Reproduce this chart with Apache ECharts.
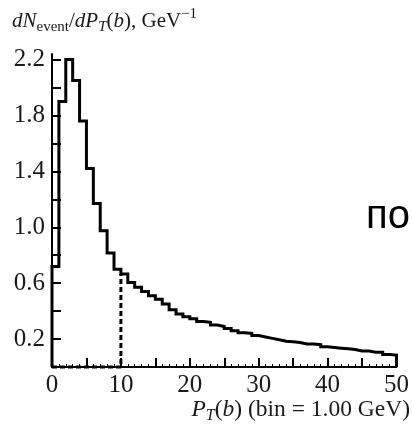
<!DOCTYPE html>
<html>
<head>
<meta charset="utf-8">
<script src="https://cdn.jsdelivr.net/npm/echarts@6/dist/echarts.min.js"></script>
<style>
  html, body { margin: 0; padding: 0; background: #fff; overflow: hidden; }
  #chart { width: 412px; height: 427px; }
</style>
</head>
<body>
<div id="chart"></div>
<script>
// b-jet transverse momentum spectrum, 1 GeV bins (lower bin edges, GeV)
const binWidth = 1.0;
const binLowEdges = [
  0, 1, 2, 3, 4, 5, 6, 7, 8, 9,
  10, 11, 12, 13, 14, 15, 16, 17, 18, 19,
  20, 21, 22, 23, 24, 25, 26, 27, 28, 29,
  30, 31, 32, 33, 34, 35, 36, 37, 38, 39,
  40, 41, 42, 43, 44, 45, 46, 47, 48, 49
];
// dN_event / dP_T(b), GeV^-1
const eventsPerGeV = [
  0.72, 1.90, 2.20, 2.05, 1.76, 1.42, 1.17, 0.975, 0.815, 0.70,
  0.665, 0.605, 0.57, 0.54, 0.51, 0.485, 0.45, 0.41, 0.38, 0.36,
  0.345, 0.325, 0.32, 0.30, 0.29, 0.275, 0.26, 0.245, 0.24, 0.225,
  0.215, 0.205, 0.195, 0.185, 0.18, 0.175, 0.165, 0.165, 0.16, 0.145,
  0.14, 0.135, 0.13, 0.125, 0.115, 0.115, 0.105, 0.105, 0.09, 0.085
];
// P_T cut (GeV)
const ptCut = 10;

// axis ticks and labels
const yTickValues = [0.2, 0.4, 0.6, 0.8, 1.0, 1.2, 1.4, 1.6, 1.8, 2.0, 2.2];
const yLabelValues = [0.2, 0.6, 1.0, 1.4, 1.8, 2.2];
const xMajorTickValues = [0, 5, 10, 15, 20, 25, 30, 35, 40, 45, 50];
const xLabelValues = [0, 10, 20, 30, 40, 50];

// step outline of the histogram, closed down to zero at both ends
const lastIdx = binLowEdges.length - 1;
const upperEdge = binLowEdges[lastIdx] + binWidth;
const histOutline = [[binLowEdges[0], 0]];
binLowEdges.forEach((x, i) => histOutline.push([x, eventsPerGeV[i]]));
histOutline.push([upperEdge, eventsPerGeV[lastIdx]]);
histOutline.push([upperEdge, 0]);

// dashed cut marker: along zero up to the cut, then up to the spectrum
const cutIdx = binLowEdges.indexOf(ptCut);
const cutOutline = [[binLowEdges[0], 0], [ptCut, 0], [ptCut, eventsPerGeV[cutIdx]]];

const serif = '"Liberation Serif", "DejaVu Serif", serif';
const ink = '#000';
const textInk = '#1a1a1a';

const chart = echarts.init(document.getElementById('chart'), null, { renderer: 'canvas' });

chart.setOption({
  animation: false,
  backgroundColor: '#fff',
  grid: { left: 52, right: 15, top: 54, bottom: 60, containLabel: false },
  xAxis: [{
    type: 'value',
    min: 0, max: upperEdge,
    axisLine: { show: true, onZero: false, lineStyle: { color: ink, width: 2 } },
    axisTick: { show: true, inside: true, length: 9, customValues: xMajorTickValues,
                lineStyle: { color: ink, width: 2 } },
    axisLabel: { show: true, customValues: xLabelValues, margin: 6,
                 fontFamily: serif, fontSize: 25, color: textInk },
    splitLine: { show: false }
  }, {
    // 1 GeV bin ticks
    type: 'value',
    position: 'bottom',
    min: 0, max: upperEdge, interval: binWidth,
    axisLine: { show: false },
    axisTick: { show: true, inside: true, length: 3, lineStyle: { color: ink, width: 1 } },
    axisLabel: { show: false },
    splitLine: { show: false }
  }],
  yAxis: {
    type: 'value',
    min: 0, max: 2.24,
    axisLine: { show: true, onZero: false, lineStyle: { color: ink, width: 2 } },
    axisTick: { show: true, inside: true, length: 9, customValues: yTickValues,
                lineStyle: { color: ink, width: 2 } },
    axisLabel: { show: true, customValues: yLabelValues, margin: 7,
                 formatter: v => v.toFixed(1),
                 fontFamily: serif, fontSize: 25, color: textInk },
    splitLine: { show: false }
  },
  series: [{
    type: 'line',
    xAxisIndex: 0,
    data: cutOutline,
    symbol: 'none',
    clip: false,
    lineStyle: { color: ink, width: 3, type: [5, 3] },
    z: 3
  }, {
    type: 'line',
    xAxisIndex: 0,
    data: histOutline,
    step: 'end',
    symbol: 'none',
    clip: false,
    lineStyle: { color: ink, width: 3, join: 'miter' },
    z: 4
  }],
  graphic: [{
    type: 'text',
    left: 12, top: 7,
    style: {
      text: '{i|dN}{sub|event}{r|/}{i|dP}{subi|T}{r|(}{i|b}{r|), GeV}{sup|−1}',
      fill: textInk,
      rich: {
        i: { fontFamily: serif, fontStyle: 'italic', fontSize: 21, lineHeight: 28, color: textInk },
        r: { fontFamily: serif, fontSize: 21, lineHeight: 28, color: textInk },
        sub: { fontFamily: serif, fontSize: 15, lineHeight: 12, verticalAlign: 'bottom', color: textInk },
        subi: { fontFamily: serif, fontStyle: 'italic', fontSize: 15, lineHeight: 12, verticalAlign: 'bottom', color: textInk },
        sup: { fontFamily: serif, fontSize: 15, lineHeight: 12, verticalAlign: 'top', color: textInk }
      }
    }
  }, {
    type: 'text',
    right: 2, top: 398,
    style: {
      text: '{i|P}{subi|T}{r|(}{i|b}{r|) (bin = 1.00 GeV)}',
      fill: textInk,
      rich: {
        i: { fontFamily: serif, fontStyle: 'italic', fontSize: 23.5, lineHeight: 28, color: textInk },
        r: { fontFamily: serif, fontSize: 23.5, lineHeight: 28, color: textInk },
        subi: { fontFamily: serif, fontStyle: 'italic', fontSize: 16, lineHeight: 12, verticalAlign: 'bottom', color: textInk }
      }
    }
  }, {
    type: 'text',
    left: 366, top: 197,
    style: {
      text: 'по',
      fill: '#000',
      font: '40px "Liberation Sans", "DejaVu Sans", sans-serif'
    }
  }]
});
</script>
</body>
</html>
